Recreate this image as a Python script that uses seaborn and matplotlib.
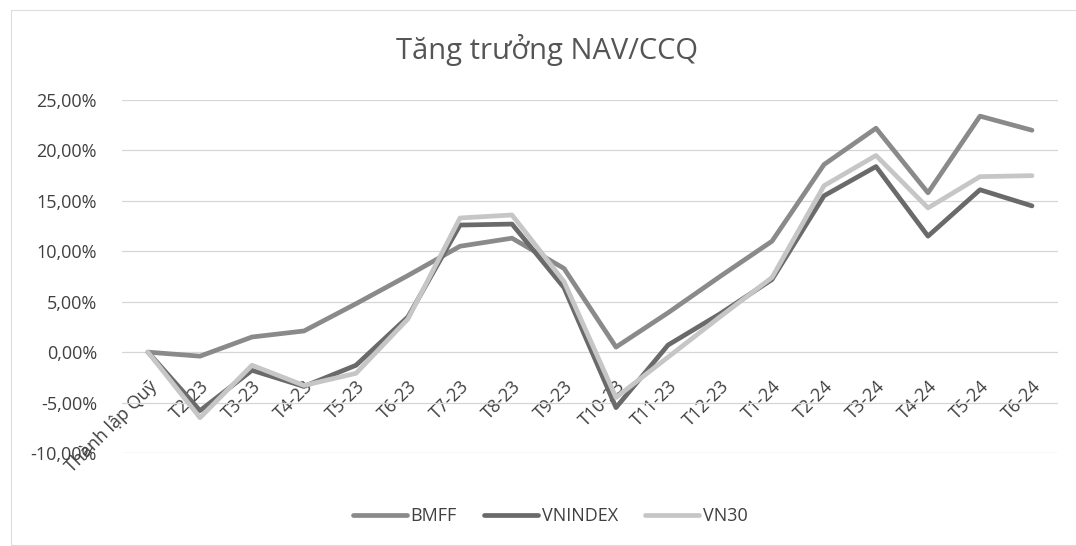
#Aim: NAV/CCQ growth chart (BMFF vs VNINDEX vs VN30)
import pandas as pd
import seaborn as sns
import matplotlib.pyplot as plt
from matplotlib.ticker import FuncFormatter
from matplotlib.patches import Rectangle

#Step 1: Data (percent)
months = ['Thành lập Quỹ', 'T2-23', 'T3-23', 'T4-23', 'T5-23', 'T6-23', 'T7-23', 'T8-23',
          'T9-23', 'T10-23', 'T11-23', 'T12-23', 'T1-24', 'T2-24', 'T3-24', 'T4-24',
          'T5-24', 'T6-24']
bmff = [0.0, -0.4, 1.5, 2.1, 4.8, 7.6, 10.5, 11.3, 8.3, 0.5, 3.9, 7.5, 11.0, 18.6, 22.2, 15.8, 23.4, 22.0]
vnindex = [0.0, -5.8, -1.8, -3.4, -1.3, 3.5, 12.6, 12.7, 6.4, -5.5, 0.7, 3.8, 7.2, 15.5, 18.4, 11.5, 16.1, 14.5]
vn30 = [0.0, -6.5, -1.3, -3.3, -2.1, 3.3, 13.3, 13.6, 7.0, -4.5, -0.5, 3.5, 7.4, 16.5, 19.5, 14.3, 17.4, 17.5]
series = ['BMFF', 'VNINDEX', 'VN30']
colors = ['#8a8a8a', '#6a6a6a', '#c6c6c6']

df = pd.DataFrame({'pos': list(range(len(months))) * 3,
                   'value': bmff + vnindex + vn30,
                   'series': [s for s in series for _ in months]})

#Step 2: Style
sns.set_style('white')
plt.rcParams['font.family'] = ['Open Sans', 'DejaVu Sans']
text_col = '#404040'

fig = plt.figure(figsize=(10.76, 5.46), dpi=100)
ax = fig.add_axes([122/1076, 1 - 453/546, (1058 - 122)/1076, (453 - 100)/546])

#Step 3: Draw lines
sns.lineplot(data=df, x='pos', y='value', hue='series', hue_order=series,
             palette=colors, linewidth=3.4, sort=False, legend=False, ax=ax)

ax.set_xlim(-0.5, len(months) - 0.5)
ax.set_ylim(-10, 25)
ax.set_yticks(range(-10, 26, 5))
ax.yaxis.set_major_formatter(FuncFormatter(lambda v, p: f'{v:.2f}%'.replace('.', ',')))
ax.grid(axis='y', color='#d6d6d6', linewidth=0.9)
ax.set_axisbelow(True)
for s in ax.spines.values():
    s.set_visible(False)
ax.spines['bottom'].set_position(('data', 0))
ax.tick_params(axis='y', length=0, pad=18, labelsize=13, labelcolor=text_col)
ax.tick_params(axis='x', length=0, pad=18, labelsize=13, labelcolor=text_col)
ax.set_xticks(range(len(months)))
ax.set_xticklabels(months, rotation=45, ha='right', va='top', rotation_mode='anchor')
ax.set_xlabel('')
ax.set_ylabel('')

#Step 4: Title, legend, border
fig.text(547/1076, 1 - 50/546, 'Tăng trưởng NAV/CCQ', ha='center', va='center',
         fontsize=21, color='#555555')
handles = [plt.Line2D([], [], color=c, linewidth=3.4) for c in colors]
fig.legend(handles, series, loc='center', bbox_to_anchor=(550/1076, 1 - 516/546),
           ncol=3, frameon=False, fontsize=13, handlelength=3.0, handletextpad=0.2,
           columnspacing=1.5, labelcolor=text_col)
fig.patches.append(Rectangle((11/1076, 1 - 545/546), 1.0, (545 - 10)/546, fill=False,
                             edgecolor='#dddddd', linewidth=0.8, transform=fig.transFigure))

fig.savefig('out.png', dpi=100)
